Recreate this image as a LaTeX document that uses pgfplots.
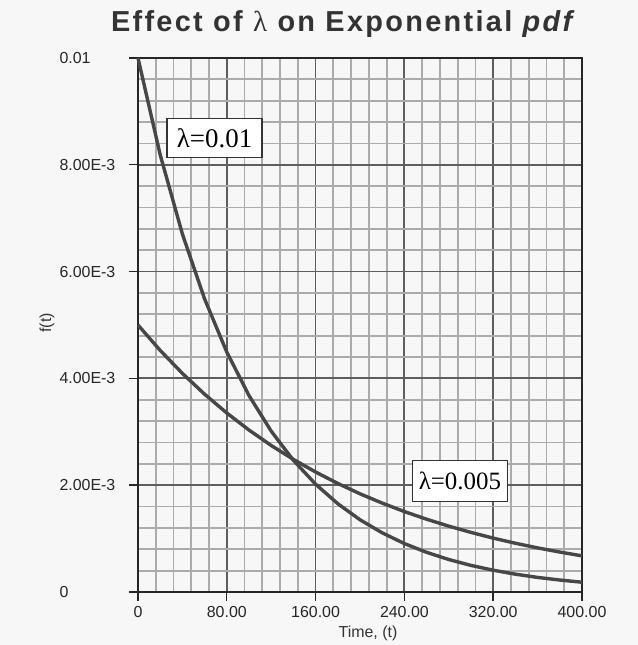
\documentclass[border=0pt]{standalone}
\usepackage{pgfplots}
\pgfplotsset{compat=1.18}
\usepackage{fontspec}
\setmainfont{Liberation Sans}
\newfontfamily\serif{Liberation Serif}
\definecolor{bg}{HTML}{F7F7F7}
\definecolor{majgrid}{HTML}{5E5E5E}
\definecolor{mingrid}{HTML}{ABABAB}
\definecolor{curve}{HTML}{474747}

% f(t) for lambda = 0.01 and lambda = 0.005, read every 20 time units
\pgfplotstableread{
t     f
0     0.010000
20    0.008187
40    0.006703
60    0.005488
80    0.004493
100   0.003679
120   0.003012
140   0.002466
160   0.002019
180   0.001653
200   0.001353
220   0.001108
240   0.000907
260   0.000743
280   0.000608
300   0.000498
320   0.000408
340   0.000334
360   0.000273
380   0.000224
400   0.000183
}\lamA
\pgfplotstableread{
t     f
0     0.005000
20    0.004524
40    0.004094
60    0.003704
80    0.003352
100   0.003033
120   0.002744
140   0.002483
160   0.002247
180   0.002033
200   0.001839
220   0.001665
240   0.001506
260   0.001363
280   0.001233
300   0.001116
320   0.001009
340   0.000913
360   0.000826
380   0.000748
400   0.000677
}\lamB

\begin{document}
\begin{tikzpicture}
\fill[bg] (-138bp,-53bp) rectangle (500bp,592bp);
\begin{axis}[
    at={(0,0)}, anchor=south west,
    scale only axis, width=444bp, height=534bp,
    xmin=0, xmax=400, ymin=0, ymax=0.01,
    xtick={0,80,160,240,320,400}, ytick={0,0.002,0.004,0.006,0.008,0.01},
    xticklabels={0,80.00,160.00,240.00,320.00,400.00},
    yticklabels={0,2.00E-3,4.00E-3,6.00E-3,8.00E-3,0.01},
    scaled y ticks=false,
    minor xtick={16,32,48,64,96,112,128,144,176,192,208,224,256,272,288,304,336,352,368,384},
    minor ytick={0.0004,0.0008,0.0012,0.0016,0.0024,0.0028,0.0032,0.0036,0.0044,0.0048,0.0052,0.0056,0.0064,0.0068,0.0072,0.0076,0.0084,0.0088,0.0092,0.0096},
    grid=both,
    major grid style={majgrid, line width=1.8bp},
    minor grid style={mingrid, line width=1.8bp},
    axis line style={black!85, line width=1.8bp},
    tick align=outside, major tick length=9bp, minor tick length=0pt,
    tick style={black!85, line width=1.4bp},
    xtick pos=bottom, ytick pos=left,
    /pgf/number format/assume math mode=true,
    tick label style={font=\fontsize{16}{18}\selectfont, text=black!85},
    yticklabel style={anchor=west, xshift=-73bp},
    xticklabel style={yshift=-2bp},
    axis background/.style={fill=bg},
    clip=false,
]
\addplot[curve, line width=3.4bp] table[x=t, y=f] {\lamA};
\addplot[curve, line width=3.4bp] table[x=t, y=f] {\lamB};
\node[draw=black!80, line width=1.3bp, fill=white, minimum width=95bp, minimum height=39bp, inner sep=2bp,
      font=\serif\fontsize{27}{29}\selectfont] at (axis cs:69,0.0085) {λ=0.01};
\node[draw=black!80, line width=1.3bp, fill=white, minimum width=95bp, minimum height=41bp, inner sep=2bp,
      font=\serif\fontsize{25}{27}\selectfont] at (axis cs:290,0.00208) {λ=0.005};
\end{axis}
\node[font=\fontsize{29}{32}\selectfont\bfseries\addfontfeature{LetterSpace=8}, text=black!80] at (206bp,568bp)
  {Effect of {\serif\mdseries λ} on Exponential \textit{pdf}};
\node[rotate=90, font=\fontsize{16}{18}\selectfont, text=black!80] at (-91bp,269bp) {f(t)};
\node[font=\fontsize{16}{18}\selectfont, text=black!80] at (230bp,-41bp) {Time, (t)};
\end{tikzpicture}
\end{document}
